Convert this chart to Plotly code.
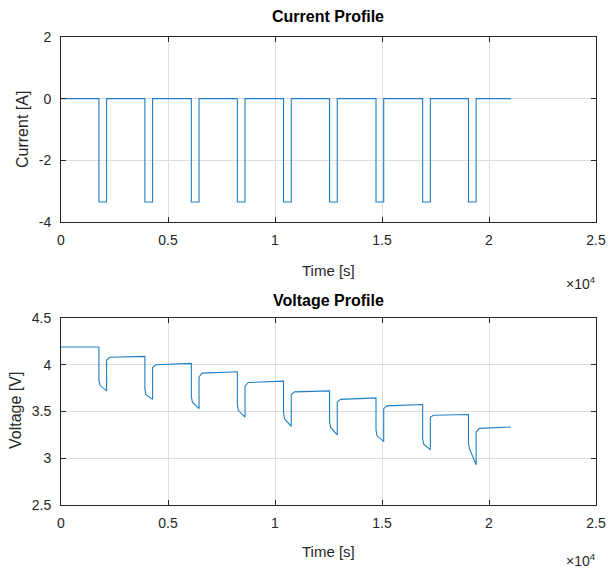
import plotly.graph_objects as go

# ---------------- data ----------------
pulse_start = [1770, 3920, 6090, 8240, 10400, 12550, 14720, 16900, 19040]
pulse_end = [2130, 4280, 6450, 8600, 10760, 12910, 15080, 17260, 19400]
t_final = 21030
current_low = -3.35

v_initial = 4.19
knee_t = [1820, 3970, 6140, 8290, 10450, 12600, 14770, 16950, 19090]
settle_t = [2280, 4430, 6600, 8750, 10910, 13060, 15230, 17410, 19550]
v_drop = [3.84, 3.74, 3.66, 3.57, 3.48, 3.39, 3.30, 3.21, 3.16]
v_knee = [3.78, 3.68, 3.60, 3.51, 3.42, 3.33, 3.24, 3.15, 3.10]
v_pulse_end = [3.72, 3.63, 3.53, 3.44, 3.34, 3.25, 3.18, 3.09, 2.93]
v_recover = [4.05, 3.97, 3.87, 3.77, 3.68, 3.60, 3.53, 3.44, 3.28]
v_settle = [4.08, 4.00, 3.91, 3.81, 3.71, 3.63, 3.56, 3.46, 3.32]
v_rest_end = [4.09, 4.015, 3.925, 3.825, 3.72, 3.645, 3.575, 3.468, 3.335]

x_tickvals = [0, 5000, 10000, 15000, 20000, 25000]
x_ticktext = ["0", "0.5", "1", "1.5", "2", "2.5"]
i_tickvals = [-4, -2, 0, 2]
i_ticktext = ["-4", "-2", "0", "2"]
v_tickvals = [2.5, 3, 3.5, 4, 4.5]
v_ticktext = ["2.5", "3", "3.5", "4", "4.5"]

# ---------------- build traces ----------------
ti, ci = [0], [0]
for s, e in zip(pulse_start, pulse_end):
    ti += [s, s, e, e]
    ci += [0, current_low, current_low, 0]
ti.append(t_final)
ci.append(0)

tv, vv = [0], [v_initial]
prev_rest = v_initial
for k in range(len(pulse_start)):
    tv += [pulse_start[k], pulse_start[k], knee_t[k], pulse_end[k], pulse_end[k], settle_t[k]]
    vv += [prev_rest, v_drop[k], v_knee[k], v_pulse_end[k], v_recover[k], v_settle[k]]
    nxt = pulse_start[k + 1] if k + 1 < len(pulse_start) else t_final
    tv.append(nxt)
    vv.append(v_rest_end[k])
    prev_rest = v_rest_end[k]

LINE = dict(color="#1f7fc4", width=1.1)
FONT = "Liberation Sans, Arial, Helvetica, sans-serif"
TXT = "#262626"

W, H = 609, 569
PX0, PX1 = 61, 596   # plot area left/right (window px)
PY0, PY1 = 37, 505   # plot area top/bottom (window px)
L, T = PX0, PY0
R = W - PX1
B = H - PY1

fig = go.Figure()
fig.add_trace(go.Scatter(x=ti, y=ci, mode="lines", line=LINE, xaxis="x", yaxis="y", showlegend=False))
fig.add_trace(go.Scatter(x=tv, y=vv, mode="lines", line=LINE, xaxis="x2", yaxis="y2", showlegend=False))

common_x = dict(range=[0, 25000], tickvals=x_tickvals, ticktext=x_ticktext,
                showgrid=True, gridcolor="#dedede", gridwidth=1,
                showline=True, linecolor=TXT, linewidth=1, mirror="ticks",
                ticks="inside", ticklen=5, tickcolor=TXT, zeroline=False, automargin=False,
                tickfont=dict(size=14, color=TXT, family=FONT), ticklabelstandoff=5)
common_y = dict(showgrid=True, gridcolor="#dedede", gridwidth=1,
                showline=True, linecolor=TXT, linewidth=1, mirror="ticks",
                ticks="inside", ticklen=5, tickcolor=TXT, zeroline=False, automargin=False,
                tickfont=dict(size=14, color=TXT, family=FONT), ticklabelstandoff=6)

ph = PY1 - PY0
top_lo = (PY1 - 222) / ph
bot_hi = (PY1 - 318) / ph

fig.update_layout(
    width=W, height=H,
    margin=dict(l=L, r=R, t=T, b=B, autoexpand=False),
    paper_bgcolor="white", plot_bgcolor="white",
    font=dict(family=FONT, color=TXT),
    xaxis=dict(domain=[0, 1], anchor="y", **common_x),
    yaxis=dict(domain=[top_lo, 1], anchor="x", range=[-4, 2], tickvals=i_tickvals, ticktext=i_ticktext, **common_y),
    xaxis2=dict(domain=[0, 1], anchor="y2", **common_x),
    yaxis2=dict(domain=[0, bot_hi], anchor="x2", range=[2.5, 4.5], tickvals=v_tickvals, ticktext=v_ticktext, **common_y),
)


def ann_px(text, px, py, size, bold=False, angle=0, xanchor="center"):
    x = (px - PX0) / (PX1 - PX0)
    y = (PY1 - py) / (PY1 - PY0)
    fig.add_annotation(text=f"<b>{text}</b>" if bold else text, x=x, y=y,
                       xref="paper", yref="paper", showarrow=False, textangle=angle,
                       xanchor=xanchor, yanchor="middle",
                       font=dict(size=size, color="black" if bold else TXT, family=FONT))


ann_px("Current Profile", 328, 17, 16, bold=True)
ann_px("Voltage Profile", 328, 300, 16, bold=True)
ann_px("Time [s]", 328, 270, 15)
ann_px("Time [s]", 328, 551, 15)
ann_px("×10<sup>4</sup>", 598, 283, 14, xanchor="right")
ann_px("×10<sup>4</sup>", 598, 560, 14, xanchor="right")
ann_px("Current [A]", 22, 130, 16, angle=-90)
ann_px("Voltage [V]", 15, 411, 16, angle=-90)

fig.write_html(
    "out.html",
    config={"displayModeBar": False},
    post_script="document.body.style.margin='0';document.body.style.overflow='hidden';",
)
